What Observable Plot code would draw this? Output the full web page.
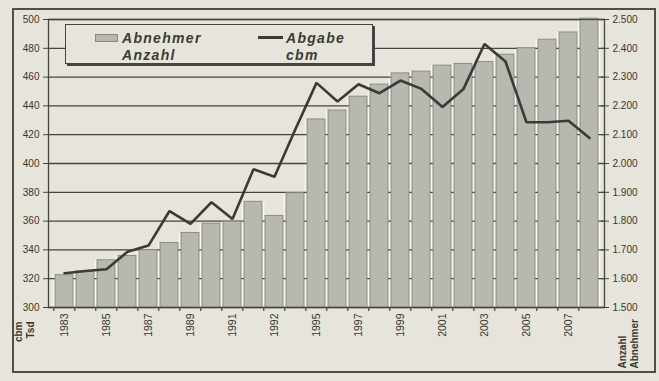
<!DOCTYPE html>
<html>
<head>
<meta charset="utf-8">
<script src="https://cdn.jsdelivr.net/npm/d3@7"></script>
<script src="https://cdn.jsdelivr.net/npm/@observablehq/plot@0.6"></script>
<style>
  html, body { margin: 0; padding: 0; background: #e7e5db; }
  #wrap { position: relative; width: 659px; height: 381px; overflow: hidden; font-family: "Liberation Sans", Arial, sans-serif; }
  #wrap svg { position: absolute; left: 0; top: 0; }
  #border { position: absolute; left: 12px; top: 8px; width: 640px; height: 361px; border: 2px solid #4e4e4a; pointer-events: none; }
  #legend { position: absolute; left: 65px; top: 24px; width: 306px; height: 38px; border: 1.5px solid #444; box-shadow: 2px 2px 0 #444; background: #e7e5db; }
  .lg { position: absolute; font-weight: bold; font-style: italic; font-size: 14px; line-height: 17px; letter-spacing: 1.3px; color: #3a3a36; }
  #sw1 { position: absolute; left: 29px; top: 9px; width: 21px; height: 6px; background: #b7b7af; border: 1px solid #888; }
  #sw2 { position: absolute; left: 192px; top: 11px; width: 25px; height: 2.5px; background: #3b3b37; }
  g[aria-label="yleft"] text, g[aria-label="yright"] text { letter-spacing: 2px; }
  g[aria-label="xlabels"] text { letter-spacing: 0.5px; }
</style>
</head>
<body>
<div id="wrap">
  <div id="legend">
    <div id="sw1"></div>
    <div class="lg" style="left:56px; top:5px;">Abnehmer<br>Anzahl</div>
    <div id="sw2"></div>
    <div class="lg" style="left:220px; top:5px;">Abgabe<br>cbm</div>
  </div>
  <div id="border"></div>
</div>
<script>
// ---- data ----
const years = [1983,1984,1985,1986,1987,1988,1989,1990,1991,1992,1993,1994,1995,1996,1997,1998,1999,2000,2001,2002,2003,2004,2005,2006,2007,2008];
// Anzahl Abnehmer (right axis)
const anzahl = [1612,1625,1664,1679,1699,1724,1759,1791,1798,1867,1818,1897,2153,2184,2232,2274,2313,2319,2340,2346,2352,2378,2400,2430,2455,2503];
// Abgabe cbm Tsd (left axis)
const abgabe = [323.8,325.4,326.6,338.7,343,367,358.1,373.1,361.5,396,390.8,424,456,443,455,448.8,457.6,451.8,439.3,451.8,483,470.8,428.6,428.6,429.7,417.7];
// axis ticks
const leftTicks = [300,320,340,360,380,400,420,440,460,480,500];
const rightTicks = [1500,1600,1700,1800,1900,2000,2100,2200,2300,2400,2500];
const xLabelYears = [1983,1985,1987,1989,1991,1993,1995,1997,1999,2001,2003,2005,2007];
const xLabelTexts = ["1983","1985","1987","1989","1991","1992","1995","1997","1999","2001","2003","2005","2007"];

// ---- layout ----
const W = 659, H = 381;
const mL = 48, mR = 55, mT = 19, mB = 74;
const pIn = 0.16, pOut = 0.06;
const step = (W - mL - mR) / (years.length - pIn + 2 * pOut);

const toLeft = d3.scaleLinear([1500, 2500], [300, 500]);
const data = years.map((y, i) => ({year: y, anzahl: anzahl[i], abgabe: abgabe[i]}));
const fmtDe = n => d3.format(",")(Math.round(n)).replace(/,/g, ".");

const ink = "#45453f";

const chart = Plot.plot({
  width: W, height: H,
  marginLeft: mL, marginRight: mR, marginTop: mT, marginBottom: mB,
  style: {background: "transparent", fontFamily: "'Liberation Sans', Arial, sans-serif", color: "#363632"},
  x: {type: "band", domain: years, paddingInner: pIn, paddingOuter: pOut, axis: null, label: null},
  y: {domain: [300, 500], axis: null, label: null},
  marks: [
    // light halo behind bars (gives the pale gaps)
    Plot.barY(data, {x: "year", y1: 300, y2: d => toLeft(d.anzahl), fill: "#f6f5f0", insetLeft: -2.4, insetRight: -2.4}),
    // gridlines
    Plot.ruleY(leftTicks, {stroke: ink, strokeWidth: 1.3}),
    // bars
    Plot.barY(data, {x: "year", y1: 300, y2: d => toLeft(d.anzahl), fill: "#b8b8b0", stroke: "#86867e", strokeWidth: 0.9}),
    // line
    Plot.lineY(data, {x: "year", y: "abgabe", stroke: "#3a3a36", strokeWidth: 2.6, strokeLinejoin: "miter"}),
    // frame / axis lines
    Plot.frame({stroke: ink, strokeWidth: 1.3}),
    // bottom tick marks between bars
    Plot.ruleX(years, {x: d => d, y1: 300, y2: 297.3, dx: -step / 2, stroke: ink, strokeWidth: 1.2}),
    // left axis
    Plot.axisY(leftTicks, {anchor: "left", label: null, tickSize: 5, tickPadding: 4, fontSize: 10, ariaLabel: "yleft", stroke: ink}),
    // right axis
    Plot.axisY(rightTicks.map(toLeft), {anchor: "right", label: null, tickSize: 4, tickPadding: 4, fontSize: 10, ariaLabel: "yright", stroke: ink,
      tickFormat: d => fmtDe(toLeft.invert(d))}),
    Plot.axisY(rightTicks.map(toLeft), {anchor: "right", label: null, tickSize: -4, text: null, stroke: ink, ariaLabel: "yright2"}),
    // x labels
    Plot.axisX(xLabelYears, {anchor: "bottom", label: null, tickSize: 0, tickPadding: 6, tickRotate: -90, fontSize: 10.5, ariaLabel: "xlabels",
      tickFormat: d => xLabelTexts[xLabelYears.indexOf(d)]}),
    // unit labels
    Plot.text(["cbm"], {frameAnchor: "bottom-left", dx: -27, dy: 14, rotate: -90, textAnchor: "end", fontSize: 10, fontWeight: "bold", fill: "#363632"}),
    Plot.text(["Tsd"], {frameAnchor: "bottom-left", dx: -15, dy: 14, rotate: -90, textAnchor: "end", fontSize: 10, fontWeight: "bold", fill: "#363632"}),
    Plot.text(["Anzahl"], {frameAnchor: "bottom-right", dx: 21, dy: 61, rotate: -90, textAnchor: "start", fontSize: 10, fontWeight: "bold", fill: "#363632"}),
    Plot.text(["Abnehmer"], {frameAnchor: "bottom-right", dx: 33, dy: 61, rotate: -90, textAnchor: "start", fontSize: 10, fontWeight: "bold", fill: "#363632"})
  ]
});
document.getElementById("wrap").insertBefore(chart, document.getElementById("legend"));
</script>
</body>
</html>
